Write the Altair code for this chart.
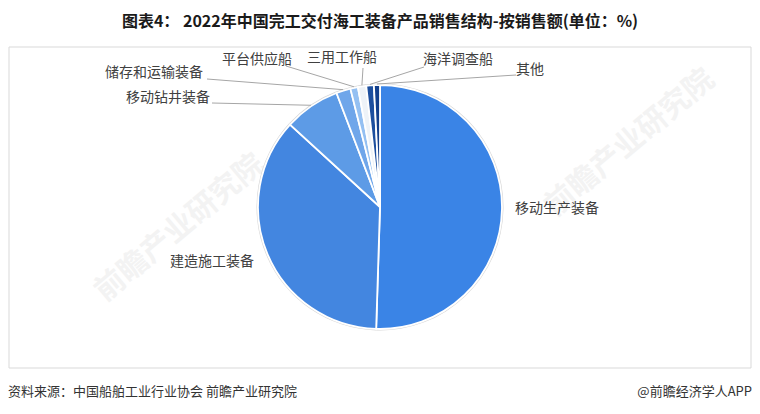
import math
import altair as alt
import pandas as pd

# ---------------- data ----------------
categories = ["移动生产装备", "建造施工装备", "移动钻井装备", "储存和运输装备",
              "平台供应船", "三用工作船", "海洋调查船", "其他"]
values = [50.5, 36.3, 7.4, 1.9, 1.0, 1.1, 1.0, 0.8]
colors = ["#3A84E6", "#4386E0", "#5D9BE6", "#6FA6EA",
          "#94C0F2", "#EEF3F8", "#1D4F9E", "#123F8C"]

title_text = "图表4： 2022年中国完工交付海工装备产品销售结构-按销售额(单位：%)"
source_text = "资料来源：中国船舶工业行业协会 前瞻产业研究院"
brand_text = "@前瞻经济学人APP"
watermark_text = "前瞻产业研究院"

# ---------------- layout ----------------
W, H = 744, 398
CX, CY = W / 2, H / 2
R = 122
FONT = "Noto Sans CJK SC"

# label anchor (x, y, align) and leader-line start (or None)
label_layout = [
    (507, 201, "left", None),
    (246, 254, "right", None),
    (202, 90, "right", (204, 95)),
    (195, 65, "right", (199, 71)),
    (284, 52, "right", (278, 58)),
    (334, 50, "center", (355, 60)),
    (415, 52, "left", (416, 59)),
    (508, 62, "left", (508, 67)),
]

pie_df = pd.DataFrame({"category": categories, "value": values,
                       "order": list(range(len(categories)))})

# leader lines: from label to slice mid-angle on the rim
total = sum(values)
cum = 0.0
lab_rows, line_rows = [], []
for cat, v, (lx, ly, al, start) in zip(categories, values, label_layout):
    mid = (cum + v / 2) / total * 2 * math.pi
    cum += v
    ex = CX + (R + 1) * math.sin(mid)
    ey = CY - (R + 1) * math.cos(mid)
    lab_rows.append({"category": cat, "x": lx, "y": ly, "align": al})
    if start is not None:
        line_rows.append({"x": start[0], "y": start[1], "x2": ex, "y2": ey})
lab_df = pd.DataFrame(lab_rows)
line_df = pd.DataFrame(line_rows)

color_scale = alt.Scale(domain=categories, range=colors)

# frame
frame = alt.Chart(pd.DataFrame({"a": [0]})).mark_rect(
    fill="white", stroke="#d9d9d9", strokeWidth=1
).encode(x=alt.value(1), x2=alt.value(743), y=alt.value(39), y2=alt.value(360))

# watermarks
wm_df = pd.DataFrame({"t": [watermark_text] * 2, "x": [622, 172], "y": [135, 220]})
watermark = alt.Chart(wm_df).mark_text(
    font=FONT, fontSize=30, fontWeight="bold", angle=320, color="#f3f3f3"
).encode(x=alt.X("x:Q", scale=None), y=alt.Y("y:Q", scale=None), text="t:N")

# pie rim (grey, slightly larger) and pie
rim = alt.Chart(pie_df).mark_arc(radius=R + 1.5, color="#d6d6d6").encode(
    theta=alt.Theta("value:Q", stack=True), order=alt.Order("order:Q")
)
pie = alt.Chart(pie_df).mark_arc(radius=R, stroke="white", strokeWidth=1.8).encode(
    theta=alt.Theta("value:Q", stack=True),
    color=alt.Color("category:N", scale=color_scale, legend=None),
    order=alt.Order("order:Q"),
)

leaders = alt.Chart(line_df).mark_rule(color="#a6a6a6", strokeWidth=1).encode(
    x=alt.X("x:Q", scale=None), y=alt.Y("y:Q", scale=None),
    x2="x2:Q", y2="y2:Q",
)

label_layers = []
for al in ["left", "right", "center"]:
    label_layers.append(
        alt.Chart(lab_df[lab_df["align"] == al]).mark_text(
            font=FONT, fontSize=14, color="#404040", align=al, baseline="middle"
        ).encode(x=alt.X("x:Q", scale=None), y=alt.Y("y:Q", scale=None), text="category:N")
    )

txt_df = pd.DataFrame({"t": [title_text]})
title = alt.Chart(txt_df).mark_text(
    font=FONT, fontSize=16, fontWeight="bold", color="#1a1a1a", align="center", baseline="middle"
).encode(x=alt.value(CX), y=alt.value(14), text="t:N")

src = alt.Chart(pd.DataFrame({"t": [source_text]})).mark_text(
    font=FONT, fontSize=13, color="#333333", align="left", baseline="middle"
).encode(x=alt.value(0), y=alt.value(384), text="t:N")

brand = alt.Chart(pd.DataFrame({"t": [brand_text]})).mark_text(
    font=FONT, fontSize=13, color="#333333", align="right", baseline="middle"
).encode(x=alt.value(744), y=alt.value(384), text="t:N")

chart = alt.layer(
    frame, watermark, rim, pie, leaders, *label_layers, title, src, brand
).properties(
    width=W, height=H, padding=0, autosize=alt.AutoSizeParams(type="none"),
    background="white",
).configure_view(stroke=None)

chart.save("out.html", embed_options={"renderer": "svg", "actions": False})
